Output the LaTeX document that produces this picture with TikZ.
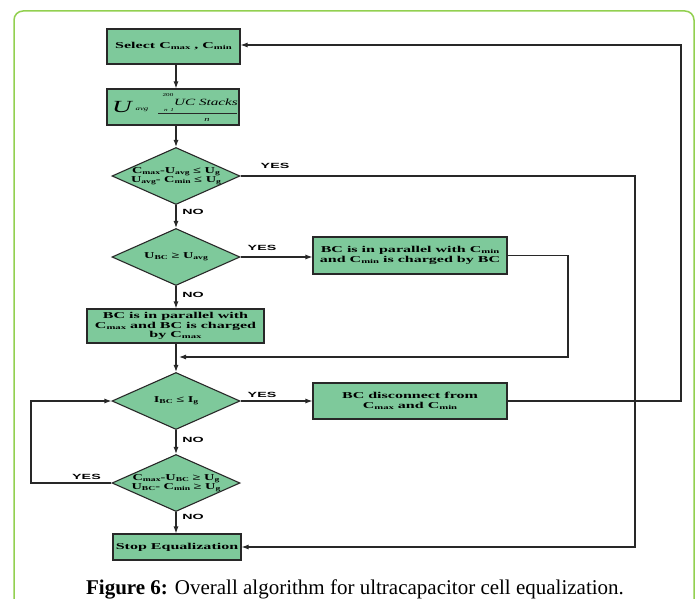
\documentclass[tikz,border=0pt]{standalone}
\usepackage{fontspec}
\setmainfont{Liberation Serif}
\newfontfamily\bxfont[FakeStretch=1.78]{Liberation Serif}
\newfontfamily\dxfont[FakeStretch=1.6]{Liberation Serif}
\newfontfamily\lbfont[FakeStretch=1.9]{Liberation Sans}
\usetikzlibrary{shapes.geometric,arrows.meta}
\definecolor{boxgreen}{RGB}{126,201,155}
\definecolor{framegreen}{RGB}{146,208,80}
\definecolor{lineclr}{RGB}{40,40,40}
\newcommand\sbs[1]{\raisebox{-0.25ex}{\fontsize{6}{6}\selectfont #1}}
\tikzset{
  proc/.style={draw=lineclr, line width=1.1pt, fill=boxgreen, rectangle, inner sep=0pt,
    align=center, font=\bxfont\bfseries\fontsize{9}{9.5}\selectfont},
  dia/.style={draw=lineclr, line width=1.1pt, fill=boxgreen, diamond, inner sep=0pt,
    minimum width=128pt, minimum height=57pt},
  diatext/.style={align=center, inner sep=0pt, font=\dxfont\bfseries\fontsize{9}{9.5}\selectfont},
  conn/.style={draw=lineclr, line width=1.1pt},
  arr/.style={conn, -{Latex[length=7pt,width=5pt]}},
  lbl/.style={inner sep=0pt, font=\lbfont\bfseries\fontsize{7.5}{8}\selectfont},
  frm/.style={inner sep=0pt, font=\dxfont\itshape}
}
\begin{document}
\begin{tikzpicture}[x=1pt,y=-1pt]
\useasboundingbox (0,0) rectangle (696,599);
\draw[framegreen, line width=1.5pt, rounded corners=9pt] (14,640) -- (14,11) -- (694,11) -- (694,640);

% boxes
\node[proc, minimum width=133pt, minimum height=35pt] (box1) at (173.5,46.5) {Select C\sbs{max} , C\sbs{min}};
\node[proc, minimum width=132pt, minimum height=36pt] (box2) at (173,107) {};
\node[frm, font=\dxfont\itshape\fontsize{17}{17}\selectfont] (uu) at (122,107) {U};
\node[frm, font=\dxfont\itshape\fontsize{5.5}{6}\selectfont] (avg) at (142,110) {avg};
\draw[conn, line width=0.9pt] (158,113) coordinate (fl) -- (237,113) coordinate (fr);
\node[frm, font=\dxfont\itshape\fontsize{9.5}{10}\selectfont] (ucs) at (206,102) {UC Stacks};
\node[frm, font=\dxfont\fontsize{4.5}{5}\selectfont] (n200) at (168,95) {200};
\node[frm, font=\dxfont\itshape\fontsize{4.5}{5}\selectfont] (n1) at (169,110.5) {n\, 1};
\node[frm, font=\dxfont\itshape\fontsize{6.5}{7}\selectfont] (nn) at (207,120) {n};

\node[dia] (d1) at (176,176) {};
\node[diatext] (t1) at (d1.center) {C\sbs{max}-U\sbs{avg} ≤ U\sbs{g}\\U\sbs{avg}- C\sbs{min} ≤ U\sbs{g}};
\node[dia] (d2) at (176,257) {};
\node[diatext] (t2) at (d2.center) {U\sbs{BC} ≥ U\sbs{avg}};
\node[proc, minimum width=194pt, minimum height=37pt] (bmin) at (410,255.5) {BC is in parallel with C\sbs{min}\\and C\sbs{min} is charged by BC};
\node[proc, minimum width=177pt, minimum height=34pt] (bmax) at (175.5,326) {BC is in parallel with\\C\sbs{max} and BC is charged\\by C\sbs{max}};
\node[dia] (d3) at (176,401) {};
\node[diatext] (t3) at (d3.center) {I\sbs{BC} ≤ I\sbs{g}};
\node[proc, minimum width=194pt, minimum height=36pt] (bdis) at (410,401) {BC disconnect from\\C\sbs{max} and C\sbs{min}};
\node[dia] (d4) at (176,483) {};
\node[diatext] (t4) at (d4.center) {C\sbs{max}-U\sbs{BC} ≥ U\sbs{g}\\U\sbs{BC}- C\sbs{min} ≥ U\sbs{g}};
\node[proc, minimum width=128pt, minimum height=26pt] (stop) at (177,547) {Stop Equalization};

% connectors
\draw[arr] (box1.south -| d1.north) -- (box2.north -| d1.north);
\draw[arr] (box2.south -| d1.north) -- (d1.north);
\draw[arr] (d1.south) -- (d2.north);
\draw[arr] (d2.east) -- (bmin.west |- d2.east);
\draw[arr] (d2.south) -- (bmax.north -| d2.south);
\draw[arr] (bmax.south -| d3.north) -- (d3.north);
\draw[arr] (d3.east) -- (bdis.west);
\draw[arr] (d3.south) -- (d4.north);
\draw[arr] (d4.south) -- (stop.north -| d4.south);
\coordinate (r1) at (635,176);
\draw[arr] (d1.east) -- (r1) |- (stop.east);
\coordinate (r2) at (568,357);
\draw[arr] (bmin.east) -| (r2) -- (179,357) coordinate (m1);
\coordinate (r3) at (681,45);
\draw[arr] (bdis.east) -| (r3) -- (box1.east |- r3);
\coordinate (l1) at (31,483);
\draw[arr] (d4.west) -- (l1) |- (d3.west);

% labels
\node[lbl] (y1) at (275,166) {YES};
\node[lbl] (y2) at (262,248) {YES};
\node[lbl] (y3) at (262,395) {YES};
\node[lbl] (y4) at (86.5,477) {YES};
\node[lbl] (n1l) at (193,212) {NO};
\node[lbl] (n2l) at (193,295) {NO};
\node[lbl] (n3l) at (193,440) {NO};
\node[lbl] (n4l) at (193,517) {NO};

% caption
\node[inner sep=0pt, anchor=base, font=\fontsize{21}{22}\selectfont] (cap) at (355,594) {\textbf{Figure 6:} Overall algorithm for ultracapacitor cell equalization.};
\end{tikzpicture}
\end{document}
